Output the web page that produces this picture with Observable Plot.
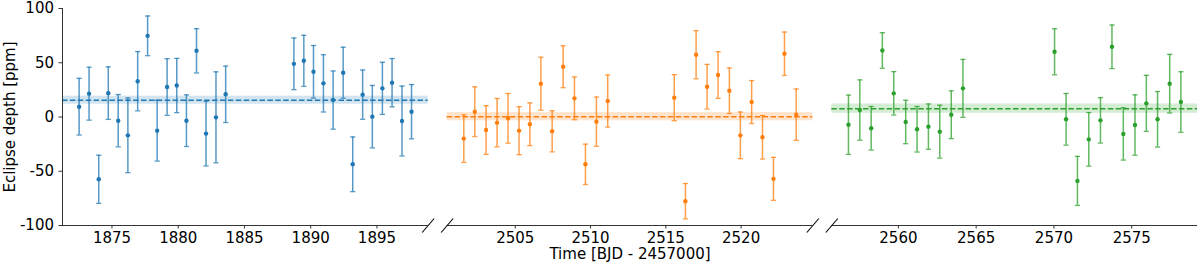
<!DOCTYPE html>
<html>
<head>
<meta charset="utf-8">
<script src="https://cdn.jsdelivr.net/npm/d3@7"></script>
<script src="https://cdn.jsdelivr.net/npm/@observablehq/plot@0.6"></script>
<style>
  body { margin: 0; background: #fff; }
  #chart svg { display: block; }
</style>
</head>
<body>
<div id="chart"></div>
<script>
// ---------- data ----------
const seriesColors = ["#1f77b4", "#ff7f0e", "#2ca02c"];

const time1 = [1872.52,1873.27,1874.00,1874.72,1875.47,1876.20,1876.94,1877.69,1878.41,1879.16,1879.89,1880.62,1881.38,1882.10,1882.85,1883.58,1888.73,1889.48,1890.21,1890.96,1891.69,1892.45,1893.17,1893.92,1894.65,1895.41,1896.14,1896.89,1897.61];
const depth1 = [9.5,21.5,-57.4,22,-3.4,-16.9,33,74.8,-12.6,27.6,29,-3.4,61,-15.3,-0.3,20.9,49,51.8,41.7,31,15.6,40.8,-43.6,20.6,0.3,26.4,31.6,-3.7,4.9];
const err1 = [26.1,24.4,22.2,24.2,24.1,34.4,27.3,18.3,28,26.1,25,23.8,20.4,29.8,41.9,26,23.8,23.5,24.2,26.4,26.8,23.5,25.2,22.7,28.8,24,22.3,32.2,25];

const time2 = [2501.58,2502.31,2503.06,2503.79,2504.52,2505.25,2505.97,2506.70,2507.45,2508.18,2508.93,2509.66,2510.39,2511.14,2515.56,2516.30,2517.01,2517.74,2518.47,2519.22,2519.95,2520.70,2521.42,2522.15,2522.88,2523.66];
const depth2 = [-19.9,4.9,-12,-5.2,-1.2,-12.6,-6.7,30.7,-13.2,46.3,17.2,-43.6,-4.3,14.7,17.8,-77.6,57.4,27.9,38.7,24.2,-16.9,13.8,-18.7,-57,58.3,2.1];
const err2 = [21.9,22.9,22.4,22.3,22.9,22.1,19.7,24.4,18.9,19.3,19.7,18.6,22.7,24,21.2,16.3,22.2,20.6,21.5,21,21.5,19.8,20,19.8,20,23.7];

const time3 = [2556.79,2557.52,2558.25,2558.97,2559.70,2560.47,2561.20,2561.93,2562.66,2563.40,2564.15,2570.04,2570.78,2571.51,2572.24,2572.99,2573.73,2574.46,2575.21,2575.94,2576.66,2577.44,2578.16];
const depth3 = [-7.1,6.4,-10.4,61.3,21.8,-4.6,-11.3,-8.9,-13.5,2.1,26.4,60.1,-2.1,-58.9,-20.6,-3.1,64.7,-15.6,-7.4,12.6,-2.1,30.7,13.8];
const err3 = [27.3,27.8,20.1,16.4,20,20,21,20.9,24.4,22,26.7,21.2,23.8,22.6,24.7,20.9,20.1,24.1,27.8,25.8,25.6,27,27.9];

const meanDepth = [15.5, 0.3, 7.7];
const meanErr = [3.7, 3.8, 4.3];

const xTicks = [1875,1880,1885,1890,1895, 2505,2510,2515,2520, 2560,2565,2570,2575];
const yTicks = [-100,-50,0,50,100];
const yDomain = [-100, 100];

// ---------- layout ----------
const W = 1200, H = 269, mL = 62, mR = 3, mT = 8, mB = 44, gap = 19;
const series = [[time1, depth1, err1], [time2, depth2, err2], [time3, depth3, err3]];
const panelW = (W - mL - mR - 2 * gap) / 3;
const domains = series.map(([t]) => {
  const [a, b] = d3.extent(t);
  const p = (b - a) * 0.05;
  return [a - p, b + p];
});
const xDomain = domains.flat();
const xRange = domains.flatMap((_, i) => [mL + i * (panelW + gap), mL + i * (panelW + gap) + panelW]);

const points = series.flatMap(([t, d, e], i) => t.map((x, j) => ({x, y: d[j], e: e[j], panel: i})));
const panels = domains.map((dm, i) => ({x1: dm[0], x2: dm[1], mean: meanDepth[i], err: meanErr[i], panel: i}));
const breaks = [domains[0][1], domains[1][0], domains[1][1], domains[2][0]].map(x => ({x}));

const capSymbol = {draw(ctx, size) { const w = Math.sqrt(size / Math.PI); ctx.moveTo(-w, 0); ctx.lineTo(w, 0); }};
const slashSymbol = {draw(ctx, size) { ctx.moveTo(-6, 7); ctx.lineTo(6, -7); }};

const spine = "#333";

const chart = Plot.plot({
  width: W, height: H,
  marginLeft: mL, marginRight: mR, marginTop: mT, marginBottom: mB,
  style: {fontFamily: "DejaVu Sans, sans-serif", fontSize: "15px", background: "#fff", color: "#000"},
  x: {type: "linear", domain: xDomain, range: xRange},
  y: {domain: yDomain},
  color: {domain: [0, 1, 2], range: seriesColors},
  marks: [
    Plot.rect(panels, {x1: "x1", x2: "x2", y1: d => d.mean - d.err, y2: d => d.mean + d.err, fill: "panel", fillOpacity: 0.2}),
    Plot.ruleY(panels, {y: "mean", x1: "x1", x2: "x2", stroke: "panel", strokeWidth: 1.5, strokeDasharray: "5.5,2.4"}),
    Plot.ruleX(points, {x: "x", y1: d => d.y - d.e, y2: d => d.y + d.e, stroke: "panel", strokeWidth: 1.5, strokeOpacity: 0.75}),
    Plot.dot(points, {x: "x", y: d => d.y + d.e, symbol: capSymbol, r: 2.6, fill: "none", stroke: "panel", strokeWidth: 1.3, strokeOpacity: 0.75}),
    Plot.dot(points, {x: "x", y: d => d.y - d.e, symbol: capSymbol, r: 2.6, fill: "none", stroke: "panel", strokeWidth: 1.3, strokeOpacity: 0.75}),
    Plot.dot(points, {x: "x", y: "y", r: 2.2, fill: "panel", stroke: "none"}),
    // spines
    Plot.ruleY(panels, {y: () => yDomain[0], x1: "x1", x2: "x2", stroke: spine, strokeWidth: 1}),
    Plot.ruleX([domains[0][0]], {y1: yDomain[0], y2: yDomain[1], stroke: spine, strokeWidth: 1}),
    // axis break marks
    Plot.dot(breaks, {x: "x", y: () => yDomain[0], symbol: slashSymbol, r: 6, fill: "none", stroke: "#000", strokeWidth: 1.1}),
    Plot.axisX(xTicks, {tickFormat: d => String(d), tickSize: 3.5, tickPadding: 3, stroke: spine,
      label: "Time [BJD - 2457000]", labelAnchor: "center", labelArrow: "none", labelOffset: 33}),
    Plot.axisY(yTicks, {tickFormat: d => String(d), tickSize: 3.5, tickPadding: 5, stroke: spine,
      label: "Eclipse depth [ppm]", labelAnchor: "center", labelArrow: "none", labelOffset: 58})
  ]
});
document.getElementById("chart").appendChild(chart);
</script>
</body>
</html>
